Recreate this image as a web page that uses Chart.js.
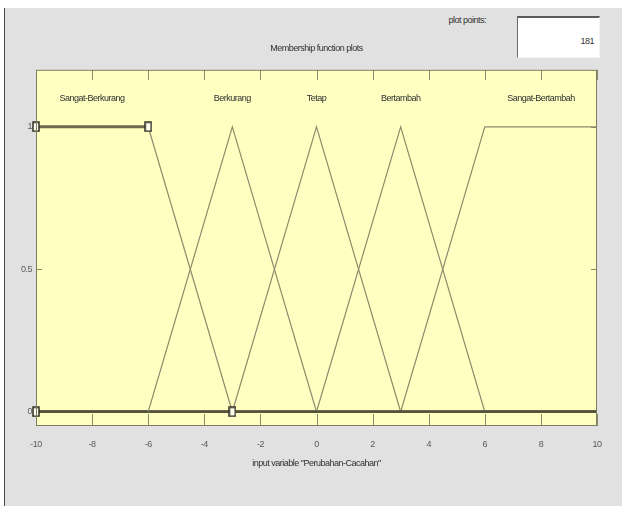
<!DOCTYPE html>
<html>
<head>
<meta charset="utf-8">
<script src="https://cdn.jsdelivr.net/npm/chart.js@4.4.1/dist/chart.umd.min.js"></script>
<style>
  html, body { margin: 0; padding: 0; background: #ffffff; }
  body { width: 622px; height: 506px; position: relative; overflow: hidden;
         font-family: 'Liberation Sans', Arial, sans-serif; }
  .panel { position: absolute; left: 4px; top: 8px; width: 618px; height: 498px;
           background: #e1e1e1; border-left: 1px solid #4a4a4a; }
  .chart-wrap { position: absolute; left: 0; top: 0; width: 622px; height: 506px; }
  .pp-label { position: absolute; left: 440px; top: 15px; width: 46px; text-align: right;
              font-size: 9px; color: #333; letter-spacing: -0.5px; }
  .pp-box { position: absolute; left: 517px; top: 16px; width: 83px; height: 42px;
            background: #ffffff; border-top: 2px solid #5a5a5a; border-left: 1px solid #6a6a6a;
            border-right: 1px solid #f4f4f4; border-bottom: 1px solid #f4f4f4;
            font-size: 9px; color: #333; text-align: right; box-sizing: border-box;
            padding: 18px 5px 0 0; letter-spacing: -0.5px; }
</style>
</head>
<body>
<div class="panel"></div>
<div class="pp-label">plot points:</div>
<div class="pp-box">181</div>
<div class="chart-wrap"><canvas id="mf-chart"></canvas></div>
<script>
// Membership functions of input variable "Perubahan-Cacahan"
const mfNames = ['Sangat-Berkurang', 'Berkurang', 'Tetap', 'Bertambah', 'Sangat-Bertambah'];
const mfX = [
  [-10, -6, -3, 10],
  [-10, -6, -3, 0, 10],
  [-10, -3, 0, 3, 10],
  [-10, 0, 3, 6, 10],
  [-10, 3, 6, 10]
];
const mfY = [
  [1, 1, 0, 0],
  [0, 0, 1, 0, 0],
  [0, 0, 1, 0, 0],
  [0, 0, 1, 0, 0],
  [0, 0, 1, 1]
];
// selected MF (trapmf [-10 -10 -6 -3]) and its parameter handles
const selectedMf = 0;
const handleX = [-10, -10, -6, -3];
const handleY = [0, 1, 1, 0];

const xTicks = [-10, -8, -6, -4, -2, 0, 2, 4, 6, 8, 10];
const yTicks = [0, 0.5, 1];
const nameLevel = 1.1;

const FONT = "'Liberation Sans', Arial, sans-serif";

// tall hollow square used for the handles
function handleImage() {
  const c = document.createElement('canvas');
  c.width = 8; c.height = 11;
  const g = c.getContext('2d');
  g.fillStyle = '#fffff0';
  g.fillRect(1, 1, 6, 9);
  g.strokeStyle = '#2e2e22';
  g.lineWidth = 1.5;
  g.strokeRect(1, 1, 6, 9);
  return c;
}

// label sits over the middle of the top (y = 1) part of each MF
function labelPos(i) {
  const xs = mfX[i].filter((x, k) => mfY[i][k] === 1);
  return (Math.min(...xs) + Math.max(...xs)) / 2;
}

function segWidth(ctx, sel) {
  const a = ctx.p0.parsed.y, b = ctx.p1.parsed.y;
  if (a === 0 && b === 0) return 2.6;
  if (sel && a === 1 && b === 1) return 3;
  return 1.2;
}
function segColor(ctx, sel) {
  const a = ctx.p0.parsed.y, b = ctx.p1.parsed.y;
  if (a === 0 && b === 0) return '#55543a';
  if (sel && a === 1 && b === 1) return '#6e6c4e';
  return '#8e8c6c';
}

const datasets = mfNames.map((name, i) => {
  const sel = i === selectedMf;
  return {
    label: name,
    data: mfX[i].map((x, k) => ({ x: x, y: mfY[i][k] })),
    showLine: true,
    borderColor: '#8e8c6c',
    borderWidth: 1.2,
    segment: {
      borderWidth: ctx => segWidth(ctx, sel),
      borderColor: ctx => segColor(ctx, sel)
    },
    pointRadius: 0,
    tension: 0,
    order: sel ? 1 : 2
  };
});
datasets.push({
  label: 'handles',
  data: handleX.map((x, k) => ({ x: x, y: handleY[k] })),
  showLine: false,
  pointStyle: handleImage(),
  pointRadius: 5,
  order: 0,
  clip: false
});

const decor = {
  id: 'decor',
  beforeDraw(chart) {
    const { ctx, chartArea: a } = chart;
    ctx.letterSpacing = '-0.5px';
    ctx.save();
    ctx.fillStyle = '#ffffc2';
    ctx.fillRect(a.left, a.top, a.right - a.left, a.bottom - a.top);
    // inward tick marks
    ctx.strokeStyle = '#8a8a6a';
    ctx.lineWidth = 1;
    xTicks.forEach(v => {
      const px = Math.round(chart.scales.x.getPixelForValue(v)) + 0.5;
      ctx.beginPath();
      ctx.moveTo(px, a.top); ctx.lineTo(px, a.top + 10);
      ctx.moveTo(px, a.bottom); ctx.lineTo(px, a.bottom - 12);
      ctx.stroke();
    });
    yTicks.forEach(v => {
      const py = Math.round(chart.scales.y.getPixelForValue(v)) + 0.5;
      ctx.beginPath();
      ctx.moveTo(a.left, py); ctx.lineTo(a.left + 6, py);
      ctx.moveTo(a.right, py); ctx.lineTo(a.right - 6, py);
      ctx.stroke();
    });
    ctx.restore();
  },
  afterDraw(chart) {
    const { ctx, chartArea: a } = chart;
    ctx.save();
    ctx.strokeStyle = '#7c7c62';
    ctx.lineWidth = 1;
    ctx.strokeRect(a.left + 0.5, a.top + 0.5, a.right - a.left - 1, a.bottom - a.top - 1);
    ctx.fillStyle = '#2f2f2f';
    ctx.font = '9px ' + FONT;
    ctx.textAlign = 'center';
    ctx.textBaseline = 'middle';
    mfNames.forEach((name, i) => {
      ctx.fillText(name, chart.scales.x.getPixelForValue(labelPos(i)),
        chart.scales.y.getPixelForValue(nameLevel));
    });
    ctx.restore();
  }
};

new Chart(document.getElementById('mf-chart'), {
  type: 'scatter',
  data: { datasets: datasets },
  plugins: [decor],
  options: {
    responsive: true,
    maintainAspectRatio: false,
    animation: false,
    layout: { padding: { left: 0, right: 25, top: 0, bottom: 0 } },
    plugins: {
      legend: { display: false },
      tooltip: { enabled: false },
      title: {
        display: true,
        text: 'Membership function plots',
        fullSize: false,
        color: '#2f2f2f',
        font: { family: FONT, size: 9, weight: 'normal', lineHeight: 1.2 },
        padding: { top: 43, bottom: 16 }
      }
    },
    scales: {
      x: {
        type: 'linear',
        min: -10,
        max: 10,
        afterFit: s => { s.height = 80; },
        afterBuildTicks: s => { s.ticks = xTicks.map(v => ({ value: v })); },
        grid: { display: false, drawTicks: false },
        border: { display: false },
        ticks: { color: '#5a5a5a', padding: 13, maxRotation: 0, autoSkip: false,
                 font: { family: FONT, size: 9 } },
        title: {
          display: true,
          text: 'input variable "Perubahan-Cacahan"',
          color: '#2f2f2f',
          font: { family: FONT, size: 9 },
          padding: { top: 0, bottom: 37 }
        }
      },
      y: {
        type: 'linear',
        min: -0.05,
        max: 1.2,
        afterFit: s => { s.width = 36; },
        afterBuildTicks: s => { s.ticks = yTicks.map(v => ({ value: v })); },
        grid: { display: false, drawTicks: false },
        border: { display: false },
        ticks: { color: '#5a5a5a', padding: 4, callback: v => String(v),
                 font: { family: FONT, size: 9 } }
      }
    }
  }
});
</script>
</body>
</html>
